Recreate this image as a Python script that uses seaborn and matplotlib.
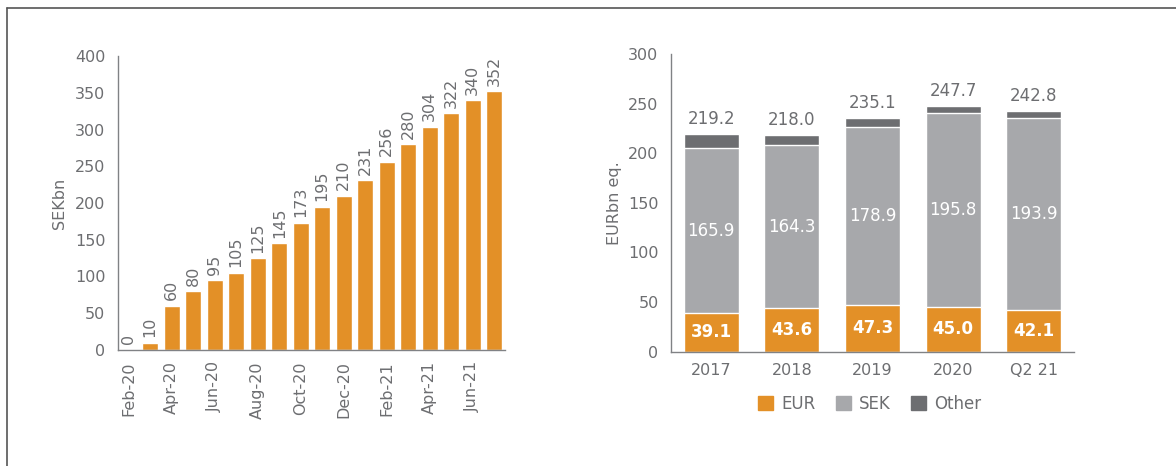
import numpy as np
import pandas as pd
import matplotlib
matplotlib.use('Agg')
import matplotlib.pyplot as plt
from matplotlib.lines import Line2D
from matplotlib.patches import Patch
import seaborn as sns

# --- data ---
months = ['Feb-20', 'Mar-20', 'Apr-20', 'May-20', 'Jun-20', 'Jul-20', 'Aug-20', 'Sep-20', 'Oct-20',
          'Nov-20', 'Dec-20', 'Jan-21', 'Feb-21', 'Mar-21', 'Apr-21', 'May-21', 'Jun-21', 'Jul-21']
sekbn = [0, 10, 60, 80, 95, 105, 125, 145, 173, 195, 210, 231, 256, 280, 304, 322, 340, 352]

years = ['2017', '2018', '2019', '2020', 'Q2 21']
eur = [39.1, 43.6, 47.3, 45.0, 42.1]
sek = [165.9, 164.3, 178.9, 195.8, 193.9]
other = [14.2, 10.1, 8.9, 6.9, 6.8]
totals = [219.2, 218.0, 235.1, 247.7, 242.8]

ORANGE = '#E39027'
LGRAY = '#A7A8AB'
DGRAY = '#6D6E71'
TXT = '#6D6E71'
AX = '#808285'

sns.set_style('white')
plt.rcParams['font.family'] = ['DejaVu Sans']
plt.rcParams['font.size'] = 11.5

fig = plt.figure(figsize=(11.76, 4.66), dpi=100)
ax1 = fig.add_axes([118 / 1176, 1 - 350 / 466, (505 - 118) / 1176, (350 - 56) / 466])
ax2 = fig.add_axes([671 / 1176, 1 - 351.7 / 466, (1074 - 671) / 1176, (351.7 - 54) / 466])

# outer frame (left and top edges only visible)
fig.add_artist(Line2D([7 / 1176, 7 / 1176], [0, 1 - 8 / 466], color='#555555', lw=1.2, transform=fig.transFigure))
fig.add_artist(Line2D([7 / 1176, 1], [1 - 8 / 466, 1 - 8 / 466], color='#555555', lw=1.2, transform=fig.transFigure))

# --- left chart ---
df1 = pd.DataFrame({'month': months, 'value': sekbn})
sns.barplot(data=df1, x='month', y='value', order=months, color=ORANGE, saturation=1,
            width=0.75, ax=ax1)
ax1.bar_label(ax1.containers[0], labels=[str(v) for v in sekbn], rotation=90, padding=4,
              color=TXT, fontsize=11.5)
ax1.set_ylim(0, 400)
ax1.set_xlim(-0.5, len(months) - 0.5)
ax1.set_yticks(np.arange(0, 401, 50))
ax1.set_xticks(np.arange(-0.5, len(months), 2))
ax1.set_xticklabels([])
ax1.set_xticks(np.arange(0, len(months), 2), minor=True)
ax1.set_xticklabels(months[::2], minor=True, rotation=90)
ax1.tick_params(axis='x', which='major', length=6, color=AX, width=1)
ax1.tick_params(axis='x', which='minor', length=0, pad=8, labelcolor=TXT, labelsize=11.5)
ax1.tick_params(axis='y', length=5, color=AX, width=1, labelcolor=TXT, labelsize=11.5, pad=4)
ax1.set_xlabel('')
ax1.set_ylabel('SEKbn', color=TXT, fontsize=11.5, labelpad=6)

# --- right chart (stacked by overlaying cumulative sums) ---
df2 = pd.DataFrame({'year': years, 'eur': eur, 'sek': sek, 'other': other})
df2['top'] = df2['eur'] + df2['sek'] + df2['other']
df2['mid'] = df2['eur'] + df2['sek']
sns.barplot(data=df2, x='year', y='top', order=years, color=DGRAY, saturation=1, width=0.68, ax=ax2)
sns.barplot(data=df2, x='year', y='mid', order=years, color=LGRAY, saturation=1, width=0.68, ax=ax2)
sns.barplot(data=df2, x='year', y='eur', order=years, color=ORANGE, saturation=1, width=0.68, ax=ax2)

for i in range(len(years)):
    ax2.text(i, df2['top'][i] + 6, f'{totals[i]:.1f}', ha='center', va='bottom', color=TXT, fontsize=12)
    ax2.text(i, eur[i] + sek[i] / 2, f'{sek[i]:.1f}', ha='center', va='center', color='white', fontsize=12)
    ax2.text(i, eur[i] / 2, f'{eur[i]:.1f}', ha='center', va='center', color='white', fontsize=12,
             fontweight='bold')

ax2.set_ylim(0, 300)
ax2.set_xlim(-0.5, len(years) - 0.5)
ax2.set_yticks(np.arange(0, 301, 50))
ax2.set_xticks(np.arange(-0.5, len(years), 1))
ax2.set_xticklabels([])
ax2.set_xticks(np.arange(len(years)), minor=True)
ax2.set_xticklabels(years, minor=True)
ax2.tick_params(axis='x', which='major', length=5, color=AX, width=1)
ax2.tick_params(axis='x', which='minor', length=0, pad=8, labelcolor=TXT, labelsize=11.5)
ax2.tick_params(axis='y', length=5, color=AX, width=1, labelcolor=TXT, labelsize=11.5, pad=4)
ax2.set_xlabel('')
ax2.set_ylabel('EURbn eq.', color=TXT, fontsize=11.5, labelpad=4)

handles = [Patch(color=ORANGE, label='EUR'), Patch(color=LGRAY, label='SEK'), Patch(color=DGRAY, label='Other')]
fig.legend(handles=handles, loc='center', bbox_to_anchor=(870 / 1176, 1 - 404 / 466), ncol=3,
           frameon=False, fontsize=12, handlelength=0.9, handleheight=0.9, handletextpad=0.5,
           columnspacing=1.2, labelcolor=TXT)

for ax in (ax1, ax2):
    sns.despine(ax=ax)
    for s in ('left', 'bottom'):
        ax.spines[s].set_color(AX)
        ax.spines[s].set_linewidth(1)

fig.savefig('out.png', dpi=100, facecolor='white')
